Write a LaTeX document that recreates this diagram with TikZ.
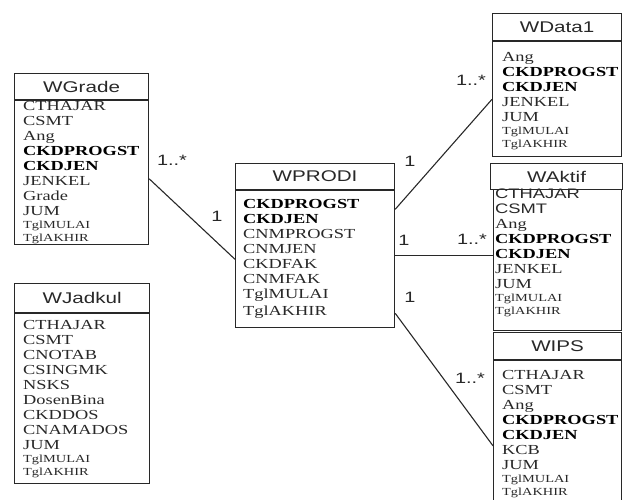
\documentclass[tikz,border=0pt]{standalone}
\usepackage{fontspec}
\setmainfont{Liberation Serif}[FakeStretch=1.33]
\newfontfamily\hdrfont{Liberation Sans}[FakeStretch=1.33]
\usetikzlibrary{positioning, calc}
\definecolor{ln}{RGB}{40,40,40}
\definecolor{tx}{RGB}{40,40,40}
\newcommand\sm[1]{{\fontsize{10.8}{15}\selectfont #1}}
\newcommand\bk[1]{{\bfseries\color{black}#1}}
\newcommand\ar[1]{{\hdrfont #1}}
\tikzset{
  hdr/.style 2 args={
    rectangle, draw=ln, line width=1.2pt,
    anchor=north west, inner sep=0pt,
    minimum width=#1, minimum height=#2,
    font=\hdrfont\fontsize{15.5}{18}\selectfont, text=tx
  },
  body/.style 2 args={
    rectangle, draw=ln, line width=1.2pt,
    anchor=north west, inner sep=0pt,
    minimum width=#1, minimum height=#2
  },
  items/.style={
    anchor=north west, inner sep=0pt, align=left,
    font=\fontsize{13.8}{15}\selectfont, text=tx
  },
  card/.style={font=\hdrfont\fontsize{15}{17}\selectfont, text=tx, inner sep=0pt},
  link/.style={draw=ln, line width=1.1pt},
}

\begin{document}
\begin{tikzpicture}[x=1pt, y=-1pt]

  \clip (0,0) rectangle (623,499);

  %% -- WGrade -----------------------------------------------------------------

  \node[hdr={134pt}{26pt}] (gradeh) at (14,73) {WGrade};
  \node[body={134pt}{144pt}] (gradeb) at (gradeh.south west) {};
  \node[items] (gradet) at ([shift={(9,0.5)}]gradeb.north west)
    {CTHAJAR\\CSMT\\Ang\\\bk{CKDPROGST}\\\bk{CKDJEN}\\JENKEL\\Grade\\JUM\\[-2pt]
     \sm{TglMULAI}\\[-2pt]\sm{TglAKHIR}};

  %% -- WJadkul ----------------------------------------------------------------

  \node[hdr={135pt}{29pt}] (jadkulh) at (14,283) {WJadkul};
  \node[body={135pt}{170pt}] (jadkulb) at (jadkulh.south west) {};
  \node[items] (jadkult) at ([shift={(9,6.5)}]jadkulb.north west)
    {CTHAJAR\\CSMT\\CNOTAB\\CSINGMK\\NSKS\\DosenBina\\CKDDOS\\CNAMADOS\\JUM\\[-2pt]
     \sm{TglMULAI}\\[-2pt]\sm{TglAKHIR}};

  %% -- WPRODI -----------------------------------------------------------------

  \node[hdr={159pt}{26pt}] (prodih) at (235,163) {WPRODI};
  \node[body={159pt}{137pt}] (prodib) at (prodih.south west) {};
  \node[items] (prodit) at ([shift={(8,8.5)}]prodib.north west)
    {\bk{CKDPROGST}\\\bk{CKDJEN}\\CNMPROGST\\CNMJEN\\CKDFAK\\CNMFAK\\TglMULAI\\[2pt]TglAKHIR};

  %% -- WData1 -----------------------------------------------------------------

  \node[hdr={129pt}{27pt}] (data1h) at (492,13) {WData1};
  \node[body={129pt}{115pt}] (data1b) at (data1h.south west) {};
  \node[items] (data1t) at ([shift={(10,10.5)}]data1b.north west)
    {Ang\\\bk{CKDPROGST}\\\bk{CKDJEN}\\JENKEL\\JUM\\[-2pt]\sm{TglMULAI}\\[-2pt]\sm{TglAKHIR}};

  %% -- WAktif -----------------------------------------------------------------

  \node[hdr={132pt}{26pt}] (aktifh) at (490,163) {WAktif};
  \node[body={128pt}{141pt}] (aktifb) at (493,189) {};
  \node[items] (aktift) at ([shift={(2,0)}]aktifb.north west)
    {\ar{CTHAJAR}\\\ar{CSMT}\\Ang\\\bk{CKDPROGST}\\\bk{CKDJEN}\\JENKEL\\JUM\\[-2pt]
     \sm{TglMULAI}\\[-2pt]\sm{TglAKHIR}};

  %% -- WIPS -------------------------------------------------------------------

  \node[hdr={128pt}{27pt}] (ipsh) at (493,332) {WIPS};
  \node[body={128pt}{150pt}] (ipsb) at (ipsh.south west) {};
  \node[items] (ipst) at ([shift={(9,9.5)}]ipsb.north west)
    {CTHAJAR\\CSMT\\Ang\\\bk{CKDPROGST}\\\bk{CKDJEN}\\KCB\\JUM\\[-2pt]
     \sm{TglMULAI}\\[-2pt]\sm{TglAKHIR}};

  %% -- Associations -----------------------------------------------------------

  \draw[link] ([yshift=-6pt]gradeb.east) -- (prodib.west);
  \node[card] (c1) at (172,160) {1..*};
  \node[card] (c2) at (217,216) {1};

  \draw[link] ([yshift=50pt]prodib.east) -- (data1b.west);
  \node[card] (c3) at (410,161) {1};
  \node[card] (c4) at (471,80) {1..*};

  \draw[link] ([yshift=4pt]prodib.east) -- ([yshift=4pt]prodib.east -| aktifb.west);
  \node[card] (c5) at (404,240) {1};
  \node[card] (c6) at (472,239) {1..*};

  \draw[link] ([yshift=-54pt]prodib.east) -- ([yshift=-10pt]ipsb.west);
  \node[card] (c7) at (410,297) {1};
  \node[card] (c8) at (470,378) {1..*};

\end{tikzpicture}
\end{document}
